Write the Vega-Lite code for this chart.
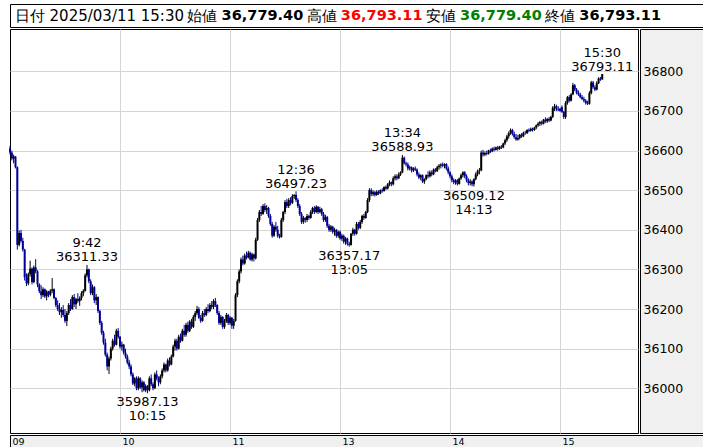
{
"$schema":"https://vega.github.io/schema/vega-lite/v6.json",
"background":"#ffffff",
"padding":{"left":8,"top":3,"right":2,"bottom":0},
"spacing":0,
"config":{"view":{"stroke":"#000000","strokeWidth":1},"font":"DejaVu Sans","concat":{"spacing":0}},
"datasets":{
"hdr":[{"g":"0","lab":"","val":"日付 2025/03/11 15:30"},{"g":"1","lab":"始値","val":"36,779.40"},{"g":"2","lab":"高値","val":"36,793.11"},{"g":"3","lab":"安値","val":"36,779.40"},{"g":"4","lab":"終値","val":"36,793.11"}],
"ann":[{"t":42,"v":36311.33,"kind":"high","label":"9:42\n36311.33"},{"t":75,"v":35987.13,"kind":"low","label":"35987.13\n10:15"},{"t":156,"v":36497.23,"kind":"high","label":"12:36\n36497.23"},{"t":185,"v":36357.17,"kind":"low","label":"36357.17\n13:05"},{"t":214,"v":36588.93,"kind":"high","label":"13:34\n36588.93"},{"t":253,"v":36509.12,"kind":"low","label":"36509.12\n14:13"},{"t":323,"v":36793.11,"kind":"high","label":"15:30\n36793.11"}],
"candles":[
{"t":0,"o":36605,"h":36612,"l":36590,"c":36595},
{"t":1,"o":36595,"h":36600,"l":36575,"c":36580},
{"t":2,"o":36580,"h":36590,"l":36568,"c":36585},
{"t":3,"o":36585,"h":36586,"l":36555,"c":36558},
{"t":4,"o":36558,"h":36560,"l":36350,"c":36362},
{"t":5,"o":36362,"h":36398,"l":36358,"c":36392},
{"t":6,"o":36392,"h":36400,"l":36368,"c":36372},
{"t":7,"o":36372,"h":36380,"l":36345,"c":36350},
{"t":8,"o":36350,"h":36352,"l":36272,"c":36280},
{"t":9,"o":36280,"h":36290,"l":36258,"c":36265},
{"t":10,"o":36265,"h":36292,"l":36260,"c":36288},
{"t":11,"o":36288,"h":36322,"l":36282,"c":36302},
{"t":12,"o":36302,"h":36305,"l":36262,"c":36268},
{"t":13,"o":36268,"h":36310,"l":36265,"c":36305},
{"t":14,"o":36305,"h":36326,"l":36290,"c":36295},
{"t":15,"o":36295,"h":36298,"l":36255,"c":36262},
{"t":16,"o":36262,"h":36265,"l":36240,"c":36245},
{"t":17,"o":36245,"h":36260,"l":36225,"c":36235},
{"t":18,"o":36235,"h":36255,"l":36230,"c":36250},
{"t":19,"o":36250,"h":36252,"l":36228,"c":36232},
{"t":20,"o":36232,"h":36248,"l":36222,"c":36244},
{"t":21,"o":36244,"h":36246,"l":36230,"c":36236},
{"t":22,"o":36236,"h":36250,"l":36232,"c":36246},
{"t":23,"o":36246,"h":36278,"l":36240,"c":36250},
{"t":24,"o":36250,"h":36252,"l":36225,"c":36228},
{"t":25,"o":36228,"h":36230,"l":36205,"c":36210},
{"t":26,"o":36210,"h":36222,"l":36195,"c":36200},
{"t":27,"o":36200,"h":36215,"l":36185,"c":36192},
{"t":28,"o":36192,"h":36205,"l":36178,"c":36198},
{"t":29,"o":36198,"h":36210,"l":36180,"c":36185},
{"t":30,"o":36185,"h":36200,"l":36165,"c":36170},
{"t":31,"o":36170,"h":36195,"l":36157,"c":36190},
{"t":32,"o":36190,"h":36215,"l":36185,"c":36210},
{"t":33,"o":36210,"h":36225,"l":36195,"c":36200},
{"t":34,"o":36200,"h":36235,"l":36198,"c":36230},
{"t":35,"o":36230,"h":36238,"l":36205,"c":36212},
{"t":36,"o":36212,"h":36228,"l":36200,"c":36225},
{"t":37,"o":36225,"h":36240,"l":36215,"c":36220},
{"t":38,"o":36220,"h":36232,"l":36208,"c":36228},
{"t":39,"o":36228,"h":36245,"l":36222,"c":36240},
{"t":40,"o":36240,"h":36250,"l":36232,"c":36246},
{"t":41,"o":36246,"h":36290,"l":36244,"c":36285},
{"t":42,"o":36285,"h":36311.33,"l":36280,"c":36300},
{"t":43,"o":36300,"h":36302,"l":36265,"c":36270},
{"t":44,"o":36270,"h":36275,"l":36235,"c":36240},
{"t":45,"o":36240,"h":36262,"l":36235,"c":36255},
{"t":46,"o":36255,"h":36258,"l":36215,"c":36222},
{"t":47,"o":36222,"h":36238,"l":36210,"c":36230},
{"t":48,"o":36230,"h":36232,"l":36190,"c":36195},
{"t":49,"o":36195,"h":36198,"l":36160,"c":36165},
{"t":50,"o":36165,"h":36170,"l":36135,"c":36140},
{"t":51,"o":36140,"h":36145,"l":36110,"c":36115},
{"t":52,"o":36115,"h":36125,"l":36080,"c":36085},
{"t":53,"o":36085,"h":36090,"l":36045,"c":36055},
{"t":54,"o":36055,"h":36080,"l":36036,"c":36075},
{"t":55,"o":36075,"h":36105,"l":36070,"c":36100},
{"t":56,"o":36100,"h":36125,"l":36095,"c":36120},
{"t":57,"o":36120,"h":36135,"l":36105,"c":36110},
{"t":58,"o":36110,"h":36150,"l":36108,"c":36145},
{"t":59,"o":36145,"h":36152,"l":36125,"c":36130},
{"t":60,"o":36130,"h":36132,"l":36100,"c":36105},
{"t":61,"o":36105,"h":36118,"l":36095,"c":36110},
{"t":62,"o":36110,"h":36112,"l":36085,"c":36090},
{"t":63,"o":36090,"h":36100,"l":36075,"c":36080},
{"t":64,"o":36080,"h":36085,"l":36060,"c":36065},
{"t":65,"o":36065,"h":36072,"l":36048,"c":36055},
{"t":66,"o":36055,"h":36060,"l":36030,"c":36035},
{"t":67,"o":36035,"h":36040,"l":36008,"c":36012},
{"t":68,"o":36012,"h":36028,"l":36005,"c":36025},
{"t":69,"o":36025,"h":36030,"l":35995,"c":36000},
{"t":70,"o":36000,"h":36030,"l":35995,"c":36025},
{"t":71,"o":36025,"h":36028,"l":35998,"c":36002},
{"t":72,"o":36002,"h":36020,"l":35990,"c":36015},
{"t":73,"o":36015,"h":36018,"l":35992,"c":35995},
{"t":74,"o":35995,"h":36010,"l":35990,"c":36005},
{"t":75,"o":36005,"h":36008,"l":35987.13,"c":35995},
{"t":76,"o":35995,"h":36030,"l":35992,"c":36025},
{"t":77,"o":36025,"h":36035,"l":36005,"c":36010},
{"t":78,"o":36010,"h":36015,"l":35995,"c":36000},
{"t":79,"o":36000,"h":36040,"l":35998,"c":36035},
{"t":80,"o":36035,"h":36045,"l":36020,"c":36025},
{"t":81,"o":36025,"h":36030,"l":36005,"c":36015},
{"t":82,"o":36015,"h":36035,"l":36010,"c":36030},
{"t":83,"o":36030,"h":36050,"l":36025,"c":36045},
{"t":84,"o":36045,"h":36065,"l":36040,"c":36060},
{"t":85,"o":36060,"h":36062,"l":36040,"c":36045},
{"t":86,"o":36045,"h":36075,"l":36042,"c":36070},
{"t":87,"o":36070,"h":36078,"l":36055,"c":36060},
{"t":88,"o":36060,"h":36085,"l":36058,"c":36080},
{"t":89,"o":36080,"h":36110,"l":36078,"c":36105},
{"t":90,"o":36105,"h":36125,"l":36095,"c":36120},
{"t":91,"o":36120,"h":36125,"l":36095,"c":36100},
{"t":92,"o":36100,"h":36135,"l":36098,"c":36130},
{"t":93,"o":36130,"h":36138,"l":36115,"c":36120},
{"t":94,"o":36120,"h":36150,"l":36118,"c":36145},
{"t":95,"o":36145,"h":36160,"l":36130,"c":36135},
{"t":96,"o":36135,"h":36165,"l":36130,"c":36160},
{"t":97,"o":36160,"h":36168,"l":36140,"c":36145},
{"t":98,"o":36145,"h":36172,"l":36142,"c":36168},
{"t":99,"o":36168,"h":36175,"l":36150,"c":36155},
{"t":100,"o":36155,"h":36185,"l":36152,"c":36180},
{"t":101,"o":36180,"h":36195,"l":36170,"c":36190},
{"t":102,"o":36190,"h":36208,"l":36185,"c":36200},
{"t":103,"o":36200,"h":36205,"l":36175,"c":36178},
{"t":104,"o":36178,"h":36185,"l":36165,"c":36170},
{"t":105,"o":36170,"h":36195,"l":36168,"c":36190},
{"t":106,"o":36190,"h":36200,"l":36180,"c":36185},
{"t":107,"o":36185,"h":36205,"l":36182,"c":36200},
{"t":108,"o":36200,"h":36212,"l":36190,"c":36195},
{"t":109,"o":36195,"h":36215,"l":36192,"c":36210},
{"t":110,"o":36210,"h":36220,"l":36200,"c":36205},
{"t":111,"o":36205,"h":36225,"l":36200,"c":36220},
{"t":112,"o":36220,"h":36228,"l":36205,"c":36210},
{"t":113,"o":36210,"h":36212,"l":36185,"c":36190},
{"t":114,"o":36190,"h":36195,"l":36160,"c":36165},
{"t":115,"o":36165,"h":36185,"l":36160,"c":36180},
{"t":116,"o":36180,"h":36182,"l":36150,"c":36155},
{"t":117,"o":36155,"h":36175,"l":36150,"c":36170},
{"t":118,"o":36170,"h":36190,"l":36165,"c":36185},
{"t":119,"o":36185,"h":36188,"l":36160,"c":36165},
{"t":120,"o":36165,"h":36182,"l":36160,"c":36178},
{"t":121,"o":36178,"h":36180,"l":36150,"c":36158},
{"t":122,"o":36158,"h":36175,"l":36150,"c":36170},
{"t":123,"o":36170,"h":36240,"l":36168,"c":36235},
{"t":124,"o":36235,"h":36275,"l":36230,"c":36270},
{"t":125,"o":36270,"h":36300,"l":36265,"c":36295},
{"t":126,"o":36295,"h":36330,"l":36290,"c":36325},
{"t":127,"o":36325,"h":36335,"l":36310,"c":36315},
{"t":128,"o":36315,"h":36340,"l":36312,"c":36335},
{"t":129,"o":36335,"h":36345,"l":36325,"c":36330},
{"t":130,"o":36330,"h":36347,"l":36328,"c":36342},
{"t":131,"o":36342,"h":36345,"l":36322,"c":36325},
{"t":132,"o":36325,"h":36342,"l":36320,"c":36338},
{"t":133,"o":36338,"h":36340,"l":36320,"c":36328},
{"t":134,"o":36328,"h":36380,"l":36325,"c":36375},
{"t":135,"o":36375,"h":36430,"l":36372,"c":36425},
{"t":136,"o":36425,"h":36450,"l":36420,"c":36445},
{"t":137,"o":36445,"h":36460,"l":36435,"c":36440},
{"t":138,"o":36440,"h":36465,"l":36438,"c":36460},
{"t":139,"o":36460,"h":36467,"l":36445,"c":36450},
{"t":140,"o":36450,"h":36462,"l":36440,"c":36455},
{"t":141,"o":36455,"h":36458,"l":36430,"c":36435},
{"t":142,"o":36435,"h":36440,"l":36410,"c":36415},
{"t":143,"o":36415,"h":36420,"l":36380,"c":36385},
{"t":144,"o":36385,"h":36412,"l":36382,"c":36408},
{"t":145,"o":36408,"h":36420,"l":36395,"c":36400},
{"t":146,"o":36400,"h":36410,"l":36380,"c":36385},
{"t":147,"o":36385,"h":36390,"l":36378,"c":36382},
{"t":148,"o":36382,"h":36430,"l":36380,"c":36425},
{"t":149,"o":36425,"h":36448,"l":36420,"c":36445},
{"t":150,"o":36445,"h":36475,"l":36440,"c":36470},
{"t":151,"o":36470,"h":36478,"l":36455,"c":36460},
{"t":152,"o":36460,"h":36480,"l":36455,"c":36475},
{"t":153,"o":36475,"h":36482,"l":36462,"c":36468},
{"t":154,"o":36468,"h":36490,"l":36465,"c":36485},
{"t":155,"o":36485,"h":36490,"l":36478,"c":36488},
{"t":156,"o":36488,"h":36497.23,"l":36470,"c":36475},
{"t":157,"o":36475,"h":36480,"l":36455,"c":36460},
{"t":158,"o":36460,"h":36465,"l":36435,"c":36440},
{"t":159,"o":36440,"h":36445,"l":36415,"c":36420},
{"t":160,"o":36420,"h":36435,"l":36415,"c":36430},
{"t":161,"o":36430,"h":36432,"l":36418,"c":36425},
{"t":162,"o":36425,"h":36440,"l":36420,"c":36435},
{"t":163,"o":36435,"h":36438,"l":36425,"c":36430},
{"t":164,"o":36430,"h":36450,"l":36428,"c":36445},
{"t":165,"o":36445,"h":36458,"l":36440,"c":36455},
{"t":166,"o":36455,"h":36460,"l":36440,"c":36445},
{"t":167,"o":36445,"h":36462,"l":36442,"c":36458},
{"t":168,"o":36458,"h":36460,"l":36440,"c":36445},
{"t":169,"o":36445,"h":36458,"l":36442,"c":36452},
{"t":170,"o":36452,"h":36455,"l":36435,"c":36440},
{"t":171,"o":36440,"h":36445,"l":36420,"c":36425},
{"t":172,"o":36425,"h":36438,"l":36420,"c":36432},
{"t":173,"o":36432,"h":36435,"l":36405,"c":36410},
{"t":174,"o":36410,"h":36415,"l":36395,"c":36400},
{"t":175,"o":36400,"h":36412,"l":36395,"c":36408},
{"t":176,"o":36408,"h":36410,"l":36390,"c":36395},
{"t":177,"o":36395,"h":36405,"l":36385,"c":36400},
{"t":178,"o":36400,"h":36402,"l":36380,"c":36385},
{"t":179,"o":36385,"h":36398,"l":36380,"c":36395},
{"t":180,"o":36395,"h":36398,"l":36375,"c":36378},
{"t":181,"o":36378,"h":36390,"l":36372,"c":36385},
{"t":182,"o":36385,"h":36388,"l":36365,"c":36370},
{"t":183,"o":36370,"h":36382,"l":36362,"c":36378},
{"t":184,"o":36378,"h":36380,"l":36360,"c":36365},
{"t":185,"o":36365,"h":36370,"l":36357.17,"c":36362},
{"t":186,"o":36362,"h":36392,"l":36360,"c":36390},
{"t":187,"o":36390,"h":36405,"l":36385,"c":36400},
{"t":188,"o":36400,"h":36402,"l":36385,"c":36390},
{"t":189,"o":36390,"h":36420,"l":36388,"c":36415},
{"t":190,"o":36415,"h":36420,"l":36400,"c":36405},
{"t":191,"o":36405,"h":36425,"l":36402,"c":36420},
{"t":192,"o":36420,"h":36438,"l":36415,"c":36435},
{"t":193,"o":36435,"h":36440,"l":36425,"c":36430},
{"t":194,"o":36430,"h":36448,"l":36428,"c":36445},
{"t":195,"o":36445,"h":36480,"l":36442,"c":36475},
{"t":196,"o":36475,"h":36505,"l":36470,"c":36500},
{"t":197,"o":36500,"h":36505,"l":36485,"c":36490},
{"t":198,"o":36490,"h":36500,"l":36485,"c":36495},
{"t":199,"o":36495,"h":36498,"l":36484,"c":36488},
{"t":200,"o":36488,"h":36500,"l":36486,"c":36496},
{"t":201,"o":36496,"h":36500,"l":36488,"c":36492},
{"t":202,"o":36492,"h":36502,"l":36490,"c":36500},
{"t":203,"o":36500,"h":36505,"l":36494,"c":36498},
{"t":204,"o":36498,"h":36510,"l":36496,"c":36508},
{"t":205,"o":36508,"h":36512,"l":36500,"c":36504},
{"t":206,"o":36504,"h":36518,"l":36502,"c":36515},
{"t":207,"o":36515,"h":36525,"l":36510,"c":36520},
{"t":208,"o":36520,"h":36522,"l":36510,"c":36515},
{"t":209,"o":36515,"h":36535,"l":36512,"c":36530},
{"t":210,"o":36530,"h":36540,"l":36525,"c":36535},
{"t":211,"o":36535,"h":36540,"l":36525,"c":36530},
{"t":212,"o":36530,"h":36545,"l":36528,"c":36540},
{"t":213,"o":36540,"h":36548,"l":36536,"c":36545},
{"t":214,"o":36545,"h":36588.93,"l":36543,"c":36582},
{"t":215,"o":36582,"h":36585,"l":36565,"c":36568},
{"t":216,"o":36568,"h":36572,"l":36560,"c":36565},
{"t":217,"o":36565,"h":36570,"l":36550,"c":36555},
{"t":218,"o":36555,"h":36562,"l":36550,"c":36558},
{"t":219,"o":36558,"h":36560,"l":36545,"c":36550},
{"t":220,"o":36550,"h":36558,"l":36546,"c":36555},
{"t":221,"o":36555,"h":36560,"l":36548,"c":36552},
{"t":222,"o":36552,"h":36555,"l":36535,"c":36540},
{"t":223,"o":36540,"h":36545,"l":36528,"c":36532},
{"t":224,"o":36532,"h":36540,"l":36525,"c":36538},
{"t":225,"o":36538,"h":36540,"l":36518,"c":36522},
{"t":226,"o":36522,"h":36530,"l":36516,"c":36528},
{"t":227,"o":36528,"h":36540,"l":36525,"c":36538},
{"t":228,"o":36538,"h":36548,"l":36530,"c":36535},
{"t":229,"o":36535,"h":36550,"l":36532,"c":36545},
{"t":230,"o":36545,"h":36550,"l":36535,"c":36540},
{"t":231,"o":36540,"h":36555,"l":36538,"c":36552},
{"t":232,"o":36552,"h":36556,"l":36545,"c":36548},
{"t":233,"o":36548,"h":36562,"l":36546,"c":36558},
{"t":234,"o":36558,"h":36566,"l":36552,"c":36562},
{"t":235,"o":36562,"h":36568,"l":36555,"c":36565},
{"t":236,"o":36565,"h":36570,"l":36558,"c":36562},
{"t":237,"o":36562,"h":36568,"l":36555,"c":36566},
{"t":238,"o":36566,"h":36568,"l":36550,"c":36555},
{"t":239,"o":36555,"h":36560,"l":36540,"c":36545},
{"t":240,"o":36545,"h":36548,"l":36530,"c":36535},
{"t":241,"o":36535,"h":36540,"l":36520,"c":36525},
{"t":242,"o":36525,"h":36530,"l":36515,"c":36520},
{"t":243,"o":36520,"h":36528,"l":36514,"c":36525},
{"t":244,"o":36525,"h":36528,"l":36512,"c":36516},
{"t":245,"o":36516,"h":36532,"l":36514,"c":36530},
{"t":246,"o":36530,"h":36542,"l":36526,"c":36538},
{"t":247,"o":36538,"h":36548,"l":36532,"c":36545},
{"t":248,"o":36545,"h":36548,"l":36530,"c":36535},
{"t":249,"o":36535,"h":36540,"l":36520,"c":36525},
{"t":250,"o":36525,"h":36530,"l":36512,"c":36518},
{"t":251,"o":36518,"h":36528,"l":36512,"c":36522},
{"t":252,"o":36522,"h":36525,"l":36510,"c":36515},
{"t":253,"o":36515,"h":36530,"l":36509.12,"c":36528},
{"t":254,"o":36528,"h":36545,"l":36525,"c":36540},
{"t":255,"o":36540,"h":36552,"l":36535,"c":36548},
{"t":256,"o":36548,"h":36556,"l":36540,"c":36550},
{"t":257,"o":36550,"h":36600,"l":36548,"c":36595},
{"t":258,"o":36595,"h":36602,"l":36585,"c":36590},
{"t":259,"o":36590,"h":36598,"l":36586,"c":36594},
{"t":260,"o":36594,"h":36600,"l":36588,"c":36592},
{"t":261,"o":36592,"h":36602,"l":36590,"c":36600},
{"t":262,"o":36600,"h":36605,"l":36594,"c":36598},
{"t":263,"o":36598,"h":36608,"l":36596,"c":36605},
{"t":264,"o":36605,"h":36610,"l":36598,"c":36602},
{"t":265,"o":36602,"h":36610,"l":36600,"c":36608},
{"t":266,"o":36608,"h":36612,"l":36600,"c":36604},
{"t":267,"o":36604,"h":36612,"l":36602,"c":36610},
{"t":268,"o":36610,"h":36614,"l":36604,"c":36608},
{"t":269,"o":36608,"h":36620,"l":36606,"c":36618},
{"t":270,"o":36618,"h":36630,"l":36614,"c":36626},
{"t":271,"o":36626,"h":36640,"l":36622,"c":36636},
{"t":272,"o":36636,"h":36648,"l":36630,"c":36644},
{"t":273,"o":36644,"h":36656,"l":36640,"c":36652},
{"t":274,"o":36652,"h":36655,"l":36638,"c":36642},
{"t":275,"o":36642,"h":36648,"l":36630,"c":36634},
{"t":276,"o":36634,"h":36642,"l":36625,"c":36628},
{"t":277,"o":36628,"h":36640,"l":36625,"c":36632},
{"t":278,"o":36632,"h":36642,"l":36628,"c":36640},
{"t":279,"o":36640,"h":36644,"l":36632,"c":36636},
{"t":280,"o":36636,"h":36648,"l":36634,"c":36645},
{"t":281,"o":36645,"h":36650,"l":36640,"c":36644},
{"t":282,"o":36644,"h":36654,"l":36642,"c":36652},
{"t":283,"o":36652,"h":36656,"l":36646,"c":36650},
{"t":284,"o":36650,"h":36658,"l":36648,"c":36655},
{"t":285,"o":36655,"h":36658,"l":36648,"c":36652},
{"t":286,"o":36652,"h":36660,"l":36650,"c":36658},
{"t":287,"o":36658,"h":36666,"l":36654,"c":36664},
{"t":288,"o":36664,"h":36672,"l":36660,"c":36668},
{"t":289,"o":36668,"h":36675,"l":36662,"c":36672},
{"t":290,"o":36672,"h":36676,"l":36664,"c":36668},
{"t":291,"o":36668,"h":36680,"l":36666,"c":36678},
{"t":292,"o":36678,"h":36684,"l":36670,"c":36674},
{"t":293,"o":36674,"h":36682,"l":36670,"c":36680},
{"t":294,"o":36680,"h":36685,"l":36672,"c":36676},
{"t":295,"o":36676,"h":36688,"l":36674,"c":36685},
{"t":296,"o":36685,"h":36712,"l":36682,"c":36708},
{"t":297,"o":36708,"h":36718,"l":36700,"c":36712},
{"t":298,"o":36712,"h":36716,"l":36700,"c":36704},
{"t":299,"o":36704,"h":36712,"l":36700,"c":36702},
{"t":300,"o":36706,"h":36708,"l":36698,"c":36700},
{"t":301,"o":36710,"h":36714,"l":36695,"c":36698},
{"t":302,"o":36698,"h":36700,"l":36680,"c":36685},
{"t":303,"o":36685,"h":36725,"l":36680,"c":36720},
{"t":304,"o":36720,"h":36738,"l":36716,"c":36735},
{"t":305,"o":36735,"h":36740,"l":36722,"c":36726},
{"t":306,"o":36726,"h":36745,"l":36724,"c":36742},
{"t":307,"o":36742,"h":36771,"l":36740,"c":36765},
{"t":308,"o":36765,"h":36768,"l":36750,"c":36754},
{"t":309,"o":36754,"h":36758,"l":36742,"c":36746},
{"t":310,"o":36746,"h":36752,"l":36738,"c":36742},
{"t":311,"o":36742,"h":36746,"l":36732,"c":36735},
{"t":312,"o":36735,"h":36740,"l":36728,"c":36730},
{"t":313,"o":36730,"h":36736,"l":36722,"c":36726},
{"t":314,"o":36726,"h":36730,"l":36716,"c":36720},
{"t":315,"o":36720,"h":36726,"l":36715,"c":36718},
{"t":316,"o":36718,"h":36750,"l":36716,"c":36745},
{"t":317,"o":36745,"h":36776,"l":36742,"c":36772},
{"t":318,"o":36772,"h":36776,"l":36756,"c":36760},
{"t":319,"o":36760,"h":36765,"l":36750,"c":36754},
{"t":320,"o":36754,"h":36775,"l":36752,"c":36770},
{"t":321,"o":36770,"h":36785,"l":36768,"c":36782},
{"t":322,"o":36782,"h":36786,"l":36776,"c":36779.4},
{"t":323,"o":36779.4,"h":36793.11,"l":36779.4,"c":36793.11}
]},
"vconcat":[
{
"width":693,"height":23,
"view":{"fill":"#ffffff","stroke":"#000000"},
"data":{"name":"hdr"},
"encoding":{"x":{"field":"g","type":"ordinal","scale":{"type":"point","domain":["0","1","2","3","4"],"padding":0.9057,"align":0.8056,"round":false},"axis":null}},
"layer":[
{"transform":[{"filter":"datum.g == '0'"}],"mark":{"type":"text","align":"right","baseline":"middle","font":"DejaVu Sans","fontSize":15,"color":"#000000"},"encoding":{"text":{"field":"val","type":"nominal"}}},
{"transform":[{"filter":"datum.g != '0'"}],"mark":{"type":"text","align":"right","baseline":"middle","font":"DejaVu Sans","fontSize":14.5,"fontWeight":"bold"},"encoding":{"text":{"field":"val","type":"nominal"},"color":{"condition":[{"test":"datum.g == '2'","value":"#ff0000"},{"test":"datum.g == '3'","value":"#008000"}],"value":"#000000"}}},
{"transform":[{"filter":"datum.g != '0'"}],"mark":{"type":"text","align":"left","baseline":"middle","dx":-116,"font":"DejaVu Sans","fontSize":15,"color":"#000000"},"encoding":{"text":{"field":"lab","type":"nominal"}}}
]
},
{
"hconcat":[
{
"width":628,"height":404,
"view":{"fill":"#ffffff","stroke":"#000000"},
"layer":[
{"data":{"name":"candles"},"mark":{"type":"rule","strokeWidth":1},
"encoding":{
"x":{"field":"t","type":"quantitative","title":null,"scale":{"domain":[0,342.5],"nice":false,"zero":false},"axis":{"values":[60,120,180,240,300],"labels":false,"ticks":false,"domain":false,"grid":true,"gridColor":"#d4d4d4","gridOpacity":1,"title":null}},
"y":{"field":"l","type":"quantitative","title":null,"scale":{"domain":[35887,36907],"nice":false,"zero":false},"axis":{"values":[36000,36100,36200,36300,36400,36500,36600,36700,36800],"labels":false,"ticks":false,"domain":false,"grid":true,"gridColor":"#d4d4d4","gridOpacity":1,"title":null}},
"y2":{"field":"h"},
"color":{"condition":{"test":"datum.c < datum.o","value":"#000099"},"value":"#000000"}}},
{"data":{"name":"candles"},"mark":{"type":"rule","strokeWidth":2},
"encoding":{
"x":{"field":"t","type":"quantitative","title":null},
"y":{"field":"o","type":"quantitative","title":null},
"y2":{"field":"c"},
"color":{"condition":{"test":"datum.c < datum.o","value":"#000099"},"value":"#000000"}}},
{"data":{"name":"ann"},"transform":[{"filter":"datum.kind == 'high'"}],"mark":{"type":"text","align":"center","baseline":"bottom","dy":-14.5,"font":"DejaVu Sans","fontSize":13,"lineHeight":14,"lineBreak":"\n","color":"#000000"},
"encoding":{"x":{"field":"t","type":"quantitative","title":null},"y":{"field":"v","type":"quantitative","title":null},"text":{"field":"label","type":"nominal"}}},
{"data":{"name":"ann"},"transform":[{"filter":"datum.kind == 'low'"}],"mark":{"type":"text","align":"center","baseline":"top","dy":3,"font":"DejaVu Sans","fontSize":13,"lineHeight":14,"lineBreak":"\n","color":"#000000"},
"encoding":{"x":{"field":"t","type":"quantitative","title":null},"y":{"field":"v","type":"quantitative","title":null},"text":{"field":"label","type":"nominal"}}}
]
},
{
"width":65,"height":404,
"view":{"fill":"#f0f0f0","stroke":"#000000"},
"data":{"name":"ann"},
"mark":{"type":"point","opacity":0},
"encoding":{"y":{"field":"v","type":"quantitative","title":null,"scale":{"domain":[35887,36907],"nice":false,"zero":false},"axis":{"orient":"left","values":[36000,36100,36200,36300,36400,36500,36600,36700,36800],"format":"d","labelAlign":"left","labelBaseline":"middle","labelPadding":-3,"ticks":false,"tickSize":0,"domain":false,"grid":false,"labelFont":"DejaVu Sans","labelFontSize":12.5,"labelColor":"#000000","labelOverlap":false,"labelBound":false,"labelFlush":false,"title":null}}}
}
],
"spacing":0
},
{
"width":693,"height":15,
"view":{"fill":"#f0f0f0","stroke":"#000000"},
"data":{"name":"ann"},
"mark":{"type":"point","opacity":0},
"encoding":{"x":{"field":"t","type":"quantitative","title":null,"scale":{"domain":[0,378],"nice":false,"zero":false},"axis":{"orient":"bottom","offset":-15,"values":[0,60,120,180,240,300],"labelExpr":"datum.value == 0 ? '09' : datum.value == 60 ? '10' : datum.value == 120 ? '11' : datum.value == 180 ? '13' : datum.value == 240 ? '14' : '15'","labelAlign":"left","labelBaseline":"top","labelOffset":2,"labelPadding":1,"ticks":false,"tickSize":0,"domain":false,"grid":false,"labelFont":"DejaVu Sans","labelFontSize":9.5,"labelColor":"#000000","labelFlush":false,"labelOverlap":false,"labelBound":false,"title":null}}}
}
]
}
